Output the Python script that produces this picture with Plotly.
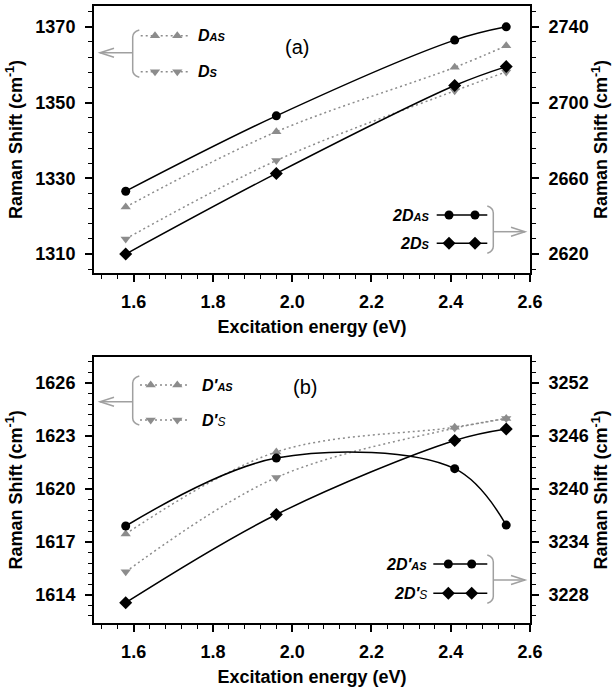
import plotly.graph_objects as go

# ---------------- data ----------------
energy = [1.58, 1.96, 2.41, 2.54]   # excitation energy (eV)

# panel (a)
D_AS = [1322.4, 1342.3, 1359.3, 1365.0]      # left axis
D_S = [1314.0, 1334.7, 1353.1, 1358.1]       # left axis
D2_AS = [2653.2, 2693.0, 2733.0, 2740.0]     # right axis
D2_S = [2620.0, 2662.6, 2709.0, 2719.0]      # right axis

# panel (b)
Dp_AS = [1617.45, 1622.1, 1623.5, 1624.0]    # left axis
Dp_S = [1615.3, 1620.65, 1623.45, 1624.0]    # left axis
D2p_AS = [3235.8, 3243.5, 3242.3, 3235.9]    # right axis
D2p_S = [3227.1, 3237.1, 3245.5, 3246.8]     # right axis

# ---------------- style ----------------
W, H = 615, 694
ML, MR, MT, MB = 94, 85, 6, 71
GRAY = "#8c8c8c"
LGRAY = "#a0a0a0"
BLACK = "#000000"
TICKFONT = dict(family="Liberation Sans, Arial, sans-serif", size=18, weight="bold", color="black")
XTITLEFONT = dict(family="Liberation Sans, Arial, sans-serif", size=18, weight="bold", color="black")
YTITLEFONT = dict(family="Liberation Sans, Arial, sans-serif", size=18, weight="bold", color="black")
LABFONT = dict(family="Liberation Sans, Arial, sans-serif", size=16, weight="bold", style="italic", color="black")

fig = go.Figure()


def series(x, y, xa, ya, symbol, color, dash, size):
    fig.add_trace(go.Scatter(
        x=x, y=y, xaxis=xa, yaxis=ya, mode="lines+markers",
        line=dict(color=color, width=1.5, dash=dash, shape="spline", smoothing=1.0),
        marker=dict(symbol=symbol, size=size, color=color),
        showlegend=False, cliponaxis=False))


DOT = "2px,3px"
# panel (a)
series(energy, D_AS, "x", "y", "triangle-up", GRAY, DOT, 9)
series(energy, D_S, "x", "y", "triangle-down", GRAY, DOT, 9)
series(energy, D2_AS, "x", "y2", "circle", BLACK, "solid", 9)
series(energy, D2_S, "x", "y2", "diamond", BLACK, "solid", 10)
# panel (b)
series(energy, Dp_AS, "x2", "y3", "triangle-up", GRAY, DOT, 9)
series(energy, Dp_S, "x2", "y3", "triangle-down", GRAY, DOT, 9)
series(energy, D2p_AS, "x2", "y4", "circle", BLACK, "solid", 9)
series(energy, D2p_S, "x2", "y4", "diamond", BLACK, "solid", 10)

# ---------------- axes ----------------
ph = H - MT - MB
dom_a = [(H - MB - 273) / ph, 1.0]
dom_b = [0.0, (H - MB - 356.7) / ph]

common_x = dict(range=[1.5, 2.6], dtick=0.2, tick0=1.6, tickformat=".1f", showline=True, linecolor="black",
                linewidth=2, mirror=True, ticks="outside", ticklen=7, tickwidth=1.5, tickcolor="black",
                minor=dict(dtick=0.04, tick0=1.6, ticks="outside", ticklen=4, tickwidth=1.2, tickcolor="black"),
                showgrid=False, zeroline=False, tickfont=TICKFONT, ticklabelstandoff=4,
                title=dict(text="Excitation energy (eV)", font=XTITLEFONT, standoff=10))


def yax(rng, dtick, tick0, mdtick, side, overlay=None, dom=None):
    d = dict(range=rng, dtick=dtick, tick0=tick0, showline=True, linecolor="black", linewidth=2,
             ticks="outside", ticklen=7, tickwidth=1.5, tickcolor="black",
             minor=dict(dtick=mdtick, tick0=tick0, ticks="outside", ticklen=4, tickwidth=1.2, tickcolor="black"),
             showgrid=False, zeroline=False, tickfont=TICKFONT, side=side, ticklabelstandoff=6,
             title=dict(text="Raman Shift (cm<sup>-1</sup>)", font=YTITLEFONT, standoff=8 if side == "left" else 4))
    if overlay:
        d["overlaying"] = overlay
    if dom:
        d["domain"] = dom
    return d


fig.update_layout(
    xaxis=dict(domain=[0, 1], anchor="y", **common_x),
    xaxis2=dict(domain=[0, 1], anchor="y3", **common_x),
    yaxis=yax([1305, 1375.5], 20, 1310, 4, "left", dom=dom_a) | dict(anchor="x"),
    yaxis2=yax([2610, 2751], 40, 2620, 8, "right", overlay="y") | dict(anchor="x"),
    yaxis3=yax([1612.4, 1627.5], 3, 1614, 0.6, "left", dom=dom_b) | dict(anchor="x2"),
    yaxis4=yax([3224.8, 3255], 6, 3228, 1.2, "right", overlay="y3") | dict(anchor="x2"),
    # hidden pixel-space axes for the hand-drawn keys
    xaxis3=dict(domain=[0, 1], range=[ML, W - MR], visible=False, anchor="y5", fixedrange=True),
    yaxis5=dict(domain=[0, 1], range=[H - MB, MT], visible=False, anchor="x3", fixedrange=True),
    width=W, height=H, margin=dict(l=ML, r=MR, t=MT, b=MB, autoexpand=False),
    paper_bgcolor="white", plot_bgcolor="rgba(0,0,0,0)", showlegend=False,
)

# ---------------- keys (pixel space) ----------------
shapes = []
annotations = []


def key(y, x0, x1, mx, symbol, color, dash, size):
    fig.add_trace(go.Scatter(x=[x0, x1], y=[y, y], xaxis="x3", yaxis="y5", mode="lines",
                             line=dict(color=color, width=1.5, dash=dash), showlegend=False, hoverinfo="skip"))
    fig.add_trace(go.Scatter(x=mx, y=[y] * len(mx), xaxis="x3", yaxis="y5", mode="markers",
                             marker=dict(symbol=symbol, size=size, color=color), showlegend=False,
                             hoverinfo="skip"))


def bracket(xh, xv, y0, y1, ya, tip, direction):
    shapes.append(dict(type="path", xref="x3", yref="y5", line=dict(color=LGRAY, width=1.5),
                       path=f"M {xh},{y0} Q {xv},{y0+2} {xv},{y0+7} L {xv},{y1-7} Q {xv},{y1-2} {xh},{y1}"))
    shapes.append(dict(type="line", xref="x3", yref="y5", x0=min(tip, xv), x1=max(tip, xv), y0=ya, y1=ya,
                       line=dict(color=LGRAY, width=1.5)))
    back = tip + 14 * direction
    shapes.append(dict(type="path", xref="x3", yref="y5", line=dict(color=LGRAY, width=1.5),
                       path=f"M {back},{ya-4.5} L {tip},{ya} L {back},{ya+4.5}"))


def label(x, y, text, anchor):
    annotations.append(dict(x=x, y=y, xref="x3", yref="y5", text=text, showarrow=False, xanchor=anchor,
                            yanchor="middle", font=LABFONT))


SMALL = '<span style="font-size:11px">{}</span>'
SUBS = '<span style="font-size:12px;font-weight:normal">{}</span>'

# panel (a) keys
key(35.7, 140.7, 190, [155, 177.3], "triangle-up", GRAY, DOT, 9)
key(71.7, 140.7, 190, [155, 177.3], "triangle-down", GRAY, DOT, 9)
bracket(139.3, 132.7, 30, 77.3, 52.7, 100, 1)
label(196, 35.7, "D" + SMALL.format("AS"), "left")
label(196, 71.7, "D" + SMALL.format("S"), "left")

key(215, 436.7, 487.3, [449, 475], "circle", BLACK, "solid", 9)
key(243.3, 436.7, 487.3, [449, 475], "diamond", BLACK, "solid", 10)
bracket(487.3, 493.3, 206, 253.3, 231.7, 525, -1)
label(431, 215, "2D" + SMALL.format("AS"), "right")
label(431, 243.3, "2D" + SMALL.format("S"), "right")

# panel (b) keys
key(385, 140, 189, [150.7, 177.3], "triangle-up", GRAY, DOT, 9)
key(420, 140, 189, [150.7, 177.3], "triangle-down", GRAY, DOT, 9)
bracket(139.3, 132.7, 376, 425, 401.7, 100, 1)
label(200, 385, "D′" + SMALL.format("AS"), "left")
label(200, 420, "D′" + SUBS.format("S"), "left")

key(564, 433.3, 487.3, [448.3, 471.7], "circle", BLACK, "solid", 9)
key(593.3, 433.3, 487.3, [448.3, 471.7], "diamond", BLACK, "solid", 10)
bracket(487.3, 493.3, 555, 603.3, 580, 525, -1)
label(429, 564, "2D′" + SMALL.format("AS"), "right")
label(429, 593.3, "2D′" + SUBS.format("S"), "right")

# panel tags
annotations.append(dict(x=297, y=47, xref="x3", yref="y5", text="(a)", showarrow=False,
                        font=dict(family="Liberation Sans, Arial, sans-serif", size=20, color="black")))
annotations.append(dict(x=305, y=387, xref="x3", yref="y5", text="(b)", showarrow=False,
                        font=dict(family="Liberation Sans, Arial, sans-serif", size=20, color="black")))

fig.update_layout(shapes=shapes, annotations=annotations)

fig.write_html("out.html", config={"displayModeBar": False},
               post_script="document.body.style.margin='0';document.body.style.overflow='hidden';")
